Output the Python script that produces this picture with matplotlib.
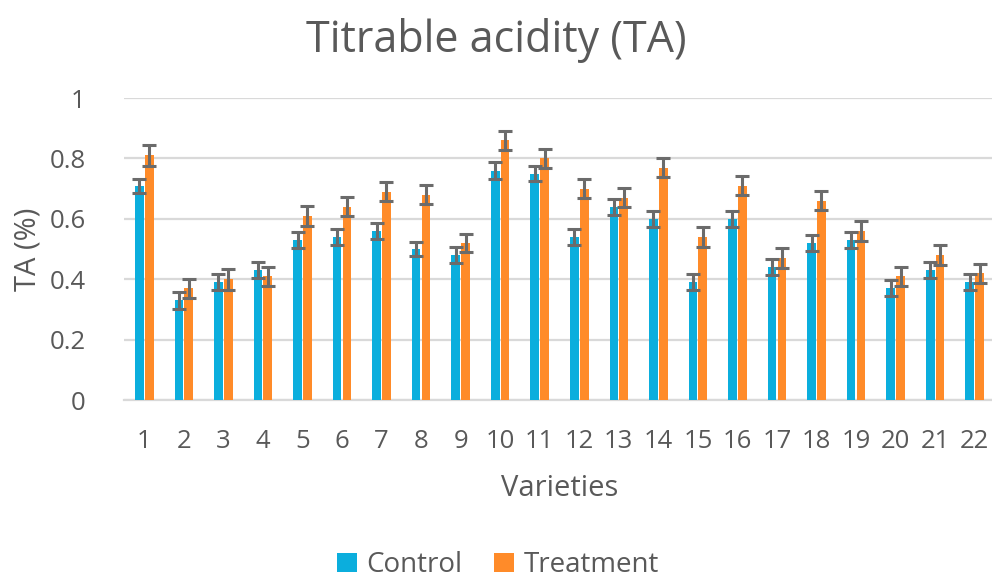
import numpy as np
import matplotlib
matplotlib.use("Agg")
import matplotlib.pyplot as plt

plt.rcParams["font.family"] = ["Open Sans", "DejaVu Sans"]

varieties = [str(i) for i in range(1, 23)]
control = [0.71, 0.33, 0.39, 0.43, 0.53, 0.54, 0.56, 0.50, 0.48, 0.76, 0.75,
           0.54, 0.64, 0.60, 0.39, 0.60, 0.44, 0.52, 0.53, 0.37, 0.43, 0.39]
treatment = [0.81, 0.37, 0.40, 0.41, 0.61, 0.64, 0.69, 0.68, 0.52, 0.86, 0.80,
             0.70, 0.67, 0.77, 0.54, 0.71, 0.47, 0.66, 0.56, 0.41, 0.48, 0.42]
control_err = [0.023, 0.027, 0.026, 0.026, 0.026, 0.026, 0.026, 0.024, 0.026, 0.027, 0.026,
               0.026, 0.026, 0.026, 0.026, 0.026, 0.026, 0.026, 0.026, 0.026, 0.026, 0.026]
treatment_err = [0.035, 0.031, 0.034, 0.031, 0.033, 0.031, 0.032, 0.031, 0.031, 0.032, 0.032,
                 0.032, 0.032, 0.032, 0.032, 0.032, 0.032, 0.032, 0.032, 0.032, 0.032, 0.032]

blue = "#0BAEDD"
orange = "#FF8B29"
grey = "#595959"
err_col = "#6B6B6B"

fig = plt.figure(figsize=(9.92, 5.84), dpi=100)
ax = fig.add_axes([0.1255, 0.315, 0.877, 0.517])

x = np.arange(len(varieties))
w = 0.22
ekw = dict(ecolor=err_col, elinewidth=2.2, capsize=4.8, capthick=2.2)
ax.bar(x - 0.125, control, w, color=blue, label="Control",
       yerr=control_err, error_kw=ekw, zorder=3)
ax.bar(x + 0.125, treatment, w, color=orange, label="Treatment",
       yerr=treatment_err, error_kw=ekw, zorder=3)

ax.set_xlim(-0.5, len(varieties) - 0.5)
ax.set_ylim(0, 1)
ax.set_yticks([0, 0.2, 0.4, 0.6, 0.8, 1])
ax.set_yticklabels(["0", "0.2", "0.4", "0.6", "0.8", "1"])
ax.set_xticks(x)
ax.set_xticklabels(varieties)
ax.grid(axis="y", color="#D9D9D9", linewidth=1.6, zorder=0)
ax.set_axisbelow(True)
for s in ["top", "right", "left"]:
    ax.spines[s].set_visible(False)
ax.spines["bottom"].set_color("#D9D9D9")
ax.spines["bottom"].set_linewidth(1.6)
ax.tick_params(length=0, labelsize=18.5, labelcolor=grey)
ax.tick_params(axis="y", pad=28)
ax.tick_params(axis="x", pad=21)

ax.set_xlabel("Varieties", fontsize=21, color=grey, labelpad=14)
ax.set_ylabel("TA (%)", fontsize=21, color=grey, labelpad=5)
fig.text(0.5, 0.93, "Titrable acidity (TA)", ha="center", va="center",
         fontsize=31, color=grey)

fig.legend(loc="center", bbox_to_anchor=(0.502, 0.032), ncol=2, frameon=False,
           fontsize=20, labelcolor=grey, handlelength=0.7, handleheight=0.7,
           handletextpad=0.35, columnspacing=1.15)

fig.savefig("out.png", dpi=100)
